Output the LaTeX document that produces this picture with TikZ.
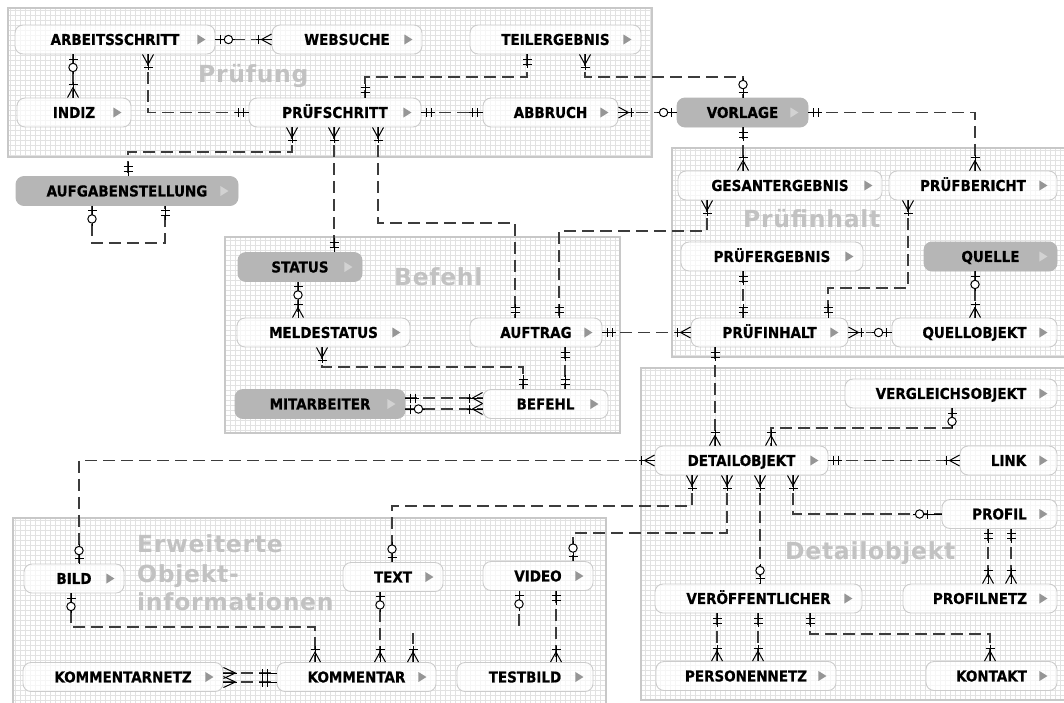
\documentclass[tikz,border=0pt]{standalone}
\usepackage{fontspec}
\setmainfont{DejaVu Sans}
\newfontfamily\entfont[FakeStretch=0.9, FakeBold=0.6]{DejaVu Sans}
\newfontfamily\grpfont[LetterSpace=3]{DejaVu Sans}
\usetikzlibrary{calc}

\definecolor{linecol}{RGB}{60,60,60}
\definecolor{gridcol}{RGB}{226,226,226}
\definecolor{grpedge}{RGB}{200,200,200}
\definecolor{entedge}{RGB}{204,204,204}
\definecolor{entgray}{RGB}{182,182,182}
\definecolor{trigray}{RGB}{150,150,150}
\definecolor{trilight}{RGB}{210,210,210}
\definecolor{lblgray}{RGB}{194,194,194}

\tikzset{
  entbox/.style={draw=entedge, line width=0.9pt, rounded corners=8pt,
    fill=white, fill opacity=0.72, text opacity=1, inner sep=0pt,
    minimum height=29pt, text height=10.9pt, text depth=0pt,
    font=\entfont\bfseries\fontsize{15}{17}\selectfont},
  entdark/.style={entbox, fill=entgray, draw=entgray, fill opacity=1},
  conn/.style={draw=linecol, line width=1.2pt, dash pattern=on 12pt off 6pt},
  sym/.style={draw=black, line width=1pt, solid},
  grplabel/.style={text=lblgray, anchor=base west, inner sep=0pt,
    font=\grpfont\bfseries\fontsize{23.5}{27}\selectfont},
  % end symbols: origin on the entity edge, line leaving along +x
  pics/one/.style={code={
    \draw[sym] (0,0) -- (14,0) (5,-4.5) -- (5,4.5) (10,-4.5) -- (10,4.5);
  }},
  pics/zone/.style={code={
    \draw[sym] (0,0) -- (9,0) (5,-4.5) -- (5,4.5) (17,0) -- (20,0);
    \filldraw[sym, fill=white] (13,0) circle[radius=4.2pt];
  }},
  pics/omany/.style={code={
    \draw[sym] (0,0) -- (16,0) (13,-4.5) -- (13,4.5);
    \draw[sym] (0,-5.5) -- (10,0) -- (0,5.5);
  }},
  pics/crow/.style={code={
    \draw[sym] (0,0) -- (14,0);
    \draw[sym] (0,-5.5) -- (12,0) -- (0,5.5);
  }},
}

% entity: name, centre x, centre y, width, label, style, triangle colour
\newcommand\ent[7]{%
  \node[#6, minimum width=#4pt] (#1) at (#2,#3) {#5};
  \fill[#7] ([xshift=-18pt]#1.east) -- ++(0,5) -- ++(8,-5) -- ++(-8,-5) -- cycle;
}

% grouping area with a fine grid
\newcommand\grp[4]{%
  \fill[white] (#1,#2) rectangle (#3,#4);
  \begin{scope}
    \clip (#1,#2) rectangle (#3,#4);
    \draw[gridcol, line width=0.55pt, step=5pt] (#1,#4) grid (#3,#2);
  \end{scope}
  \draw[grpedge, line width=1.5pt] (#1,#2) rectangle (#3,#4);
}

\begin{document}
\begin{tikzpicture}[x=1pt, y=-1pt]
\useasboundingbox (0,0) rectangle (1064,702);
\fill[white] (0,0) rectangle (1064,702);

% ---- groups
\grp{8}{8}{652}{157}
\grp{672}{148}{1075}{357}
\grp{225}{237}{620}{433}
\grp{641}{368}{1075}{700}
\grp{13}{518}{606}{712}

\node[grplabel] (lPruef) at (198,82) {Prüfung};
\node[grplabel] (lInhalt) at (743,227) {Prüfinhalt};
\node[grplabel] (lBefehl) at (394,285) {Befehl};
\node[grplabel] (lDetail) at (785,559) {Detailobjekt};
\node[grplabel] (lErw1) at (137,552) {Erweiterte};
\node[grplabel] (lErw2) at (137,582) {Objekt-};
\node[grplabel] (lErw3) at (137,610) {informationen};

% ---- entities
\ent{arb}{115}{39.5}{200}{ARBEITSSCHRITT}{entbox}{trigray}
\ent{web}{347}{39.5}{150}{WEBSUCHE}{entbox}{trigray}
\ent{teil}{555.5}{39.5}{171}{TEILERGEBNIS}{entbox}{trigray}
\ent{indiz}{74}{112.5}{114}{INDIZ}{entbox}{trigray}
\ent{pruefs}{335}{112.5}{172}{PRÜFSCHRITT}{entbox}{trigray}
\ent{abbr}{550.5}{112.5}{135}{ABBRUCH}{entbox}{trigray}
\ent{vorl}{742.5}{112.5}{131}{VORLAGE}{entdark}{trilight}
\ent{aufg}{127}{191}{222}{AUFGABENSTELLUNG}{entdark}{trilight}
\ent{gesamt}{780}{185.5}{204}{GESANTERGEBNIS}{entbox}{trigray}
\ent{bericht}{973}{185.5}{168}{PRÜFBERICHT}{entbox}{trigray}
\ent{pergeb}{772}{256.5}{182}{PRÜFERGEBNIS}{entbox}{trigray}
\ent{quelle}{990.5}{256.5}{133}{QUELLE}{entdark}{trilight}
\ent{inhalt}{769.5}{332.5}{157}{PRÜFINHALT}{entbox}{trigray}
\ent{qobj}{974.5}{332.5}{165}{QUELLOBJEKT}{entbox}{trigray}
\ent{status}{300}{267}{124}{STATUS}{entdark}{trilight}
\ent{melde}{323.5}{332.5}{173}{MELDESTATUS}{entbox}{trigray}
\ent{auftrag}{536}{332.5}{132}{AUFTRAG}{entbox}{trigray}
\ent{mitarb}{320}{404}{170}{MITARBEITER}{entdark}{trilight}
\ent{befehl}{545.5}{404}{125}{BEFEHL}{entbox}{trigray}
\ent{vergl}{951}{393.5}{212}{VERGLEICHSOBJEKT}{entbox}{trigray}
\ent{detail}{741.5}{460.5}{173}{DETAILOBJEKT}{entbox}{trigray}
\ent{link}{1008.5}{460.5}{97}{LINK}{entbox}{trigray}
\ent{profil}{999.5}{514}{115}{PROFIL}{entbox}{trigray}
\ent{veroef}{758.5}{598.5}{207}{VERÖFFENTLICHER}{entbox}{trigray}
\ent{profnetz}{980}{598.5}{154}{PROFILNETZ}{entbox}{trigray}
\ent{persnetz}{746}{676}{180}{PERSONENNETZ}{entbox}{trigray}
\ent{kontakt}{991.5}{676}{131}{KONTAKT}{entbox}{trigray}
\ent{bild}{74}{578.5}{100}{BILD}{entbox}{trigray}
\ent{txt}{393}{577}{100}{TEXT}{entbox}{trigray}
\ent{video}{538}{576}{110}{VIDEO}{entbox}{trigray}
\ent{knetz}{123}{677}{200}{KOMMENTARNETZ}{entbox}{trigray}
\ent{komm}{356.5}{677}{159}{KOMMENTAR}{entbox}{trigray}
\ent{testbild}{525}{677}{136}{TESTBILD}{entbox}{trigray}

\coordinate (kstub) at (413,633);
\coordinate (vstub) at (519,626);

% ---- relationships: Prüfung
\draw[conn] (arb.east) -- (web.west);
\pic at (arb.east) {zone}; \pic[rotate=180] at (web.west) {omany};

\draw[conn] (arb.south -| 73,0) -- (indiz.north -| 73,0);
\pic[rotate=-90] at (arb.south -| 73,0) {zone}; \pic[rotate=90] at (indiz.north -| 73,0) {omany};

\draw[conn] (arb.south -| 148,0) |- (pruefs.west);
\pic[rotate=-90] at (arb.south -| 148,0) {omany}; \pic[rotate=180] at (pruefs.west) {one};

\draw[conn] (teil.south -| 527,0) |- (365,77) -- (pruefs.north -| 365,0);
\pic[rotate=-90] at (teil.south -| 527,0) {one}; \pic[rotate=90] at (pruefs.north -| 365,0) {one};

\draw[conn] (teil.south -| 585,0) |- (743,77) -- (vorl.north -| 743,0);
\pic[rotate=-90] at (teil.south -| 585,0) {omany}; \pic[rotate=90] at (vorl.north -| 743,0) {zone};

\draw[conn] (pruefs.east) -- (abbr.west);
\pic at (pruefs.east) {one}; \pic[rotate=180] at (abbr.west) {one};

\draw[conn] (abbr.east) -- (vorl.west);
\pic at (abbr.east) {omany}; \pic[rotate=180] at (vorl.west) {zone};

\draw[conn] (vorl.east) -| (bericht.north -| 975,0);
\pic at (vorl.east) {one}; \pic[rotate=90] at (bericht.north -| 975,0) {omany};

\draw[conn] (vorl.south -| 743,0) -- (gesamt.north -| 743,0);
\pic[rotate=-90] at (vorl.south -| 743,0) {one}; \pic[rotate=90] at (gesamt.north -| 743,0) {omany};

\draw[conn] (pruefs.south -| 292,0) |- (128,152) -- (aufg.north -| 128,0);
\pic[rotate=-90] at (pruefs.south -| 292,0) {omany}; \pic[rotate=90] at (aufg.north -| 128,0) {one};

\draw[conn] (pruefs.south -| 334,0) -- (status.north -| 334,0);
\pic[rotate=-90] at (pruefs.south -| 334,0) {omany}; \pic[rotate=90] at (status.north -| 334,0) {one};

\draw[conn] (pruefs.south -| 378,0) |- (515,223) -- (auftrag.north -| 515,0);
\pic[rotate=-90] at (pruefs.south -| 378,0) {omany}; \pic[rotate=90] at (auftrag.north -| 515,0) {one};

\draw[conn] (aufg.south -| 92,0) |- (165,243) -- (aufg.south -| 165,0);
\pic[rotate=-90] at (aufg.south -| 92,0) {zone}; \pic[rotate=-90] at (aufg.south -| 165,0) {one};

% ---- relationships: Prüfinhalt
\draw[conn] (gesamt.south -| 707,0) |- (559,231) -- (auftrag.north -| 559,0);
\pic[rotate=-90] at (gesamt.south -| 707,0) {omany}; \pic[rotate=90] at (auftrag.north -| 559,0) {one};

\draw[conn] (bericht.south -| 908,0) |- (828,288) -- (inhalt.north -| 828,0);
\pic[rotate=-90] at (bericht.south -| 908,0) {omany}; \pic[rotate=90] at (inhalt.north -| 828,0) {one};

\draw[conn] (pergeb.south -| 743,0) -- (inhalt.north -| 743,0);
\pic[rotate=-90] at (pergeb.south -| 743,0) {one}; \pic[rotate=90] at (inhalt.north -| 743,0) {one};

\draw[conn] (inhalt.east) -- (qobj.west);
\pic at (inhalt.east) {omany}; \pic[rotate=180] at (qobj.west) {zone};

\draw[conn] (quelle.south -| 975,0) -- (qobj.north -| 975,0);
\pic[rotate=-90] at (quelle.south -| 975,0) {zone}; \pic[rotate=90] at (qobj.north -| 975,0) {omany};

\draw[conn] (auftrag.east) -- (inhalt.west);
\pic at (auftrag.east) {one}; \pic[rotate=180] at (inhalt.west) {omany};

\draw[conn] (inhalt.south -| 715,0) -- (detail.north -| 715,0);
\pic[rotate=-90] at (inhalt.south -| 715,0) {one}; \pic[rotate=90] at (detail.north -| 715,0) {omany};

% ---- relationships: Befehl
\draw[conn] (status.south -| 298,0) -- (melde.north -| 298,0);
\pic[rotate=-90] at (status.south -| 298,0) {zone}; \pic[rotate=90] at (melde.north -| 298,0) {omany};

\draw[conn] (melde.south -| 322,0) |- (523,367) -- (befehl.north -| 523,0);
\pic[rotate=-90] at (melde.south -| 322,0) {omany}; \pic[rotate=90] at (befehl.north -| 523,0) {one};

\draw[conn] (auftrag.south -| 565,0) -- (befehl.north -| 565,0);
\pic[rotate=-90] at (auftrag.south -| 565,0) {one}; \pic[rotate=90] at (befehl.north -| 565,0) {one};

\draw[conn] ($(mitarb.east)+(0,-6)$) -- ($(befehl.west)+(0,-6)$);
\draw[conn] ($(mitarb.east)+(0,5)$) -- ($(befehl.west)+(0,5)$);
\pic at ($(mitarb.east)+(0,-6)$) {one}; \pic at ($(mitarb.east)+(0,5)$) {zone};
\pic[rotate=180] at ($(befehl.west)+(0,-6)$) {omany};
\pic[rotate=180] at ($(befehl.west)+(0,5)$) {omany};

% ---- relationships: Detailobjekt
\draw[conn] (vergl.south -| 952,0) |- (771,428) -- (detail.north -| 771,0);
\pic[rotate=-90] at (vergl.south -| 952,0) {zone}; \pic[rotate=90] at (detail.north -| 771,0) {omany};

\draw[conn] (detail.east) -- (link.west);
\pic at (detail.east) {one}; \pic[rotate=180] at (link.west) {omany};

\draw[conn] (detail.west) -| (bild.north -| 79,0);
\pic[rotate=180] at (detail.west) {omany}; \pic[rotate=90] at (bild.north -| 79,0) {zone};

\draw[conn] (detail.south -| 692,0) |- (392,506) -- (txt.north -| 392,0);
\pic[rotate=-90] at (detail.south -| 692,0) {omany}; \pic[rotate=90] at (txt.north -| 392,0) {zone};

\draw[conn] (detail.south -| 727,0) |- (573,533) -- (video.north -| 573,0);
\pic[rotate=-90] at (detail.south -| 727,0) {omany}; \pic[rotate=90] at (video.north -| 573,0) {zone};

\draw[conn] (detail.south -| 760,0) -- (veroef.north -| 760,0);
\pic[rotate=-90] at (detail.south -| 760,0) {omany}; \pic[rotate=90] at (veroef.north -| 760,0) {zone};

\draw[conn] (detail.south -| 793,0) |- (profil.west);
\pic[rotate=-90] at (detail.south -| 793,0) {omany};
\draw[sym] (profil.west) -- ++(-9,0);
\pic[rotate=180] at ([xshift=-9pt]profil.west) {zone};

\draw[conn] (profil.south -| 988,0) -- (profnetz.north -| 988,0);
\pic[rotate=-90] at (profil.south -| 988,0) {one}; \pic[rotate=90] at (profnetz.north -| 988,0) {omany};
\draw[conn] (profil.south -| 1011,0) -- (profnetz.north -| 1011,0);
\pic[rotate=-90] at (profil.south -| 1011,0) {one}; \pic[rotate=90] at (profnetz.north -| 1011,0) {omany};

\draw[conn] (veroef.south -| 717,0) -- (persnetz.north -| 717,0);
\pic[rotate=-90] at (veroef.south -| 717,0) {one}; \pic[rotate=90] at (persnetz.north -| 717,0) {omany};
\draw[conn] (veroef.south -| 758,0) -- (persnetz.north -| 758,0);
\pic[rotate=-90] at (veroef.south -| 758,0) {one}; \pic[rotate=90] at (persnetz.north -| 758,0) {omany};

\draw[conn] (veroef.south -| 810,0) |- (990,634) -- (kontakt.north -| 990,0);
\pic[rotate=-90] at (veroef.south -| 810,0) {one}; \pic[rotate=90] at (kontakt.north -| 990,0) {omany};

% ---- relationships: Erweiterte Objektinformationen
\draw[conn] (bild.south -| 71,0) |- (315,627) -- (komm.north -| 315,0);
\pic[rotate=-90] at (bild.south -| 71,0) {zone}; \pic[rotate=90] at (komm.north -| 315,0) {omany};

\draw[conn] (txt.south -| 380,0) -- (komm.north -| 380,0);
\pic[rotate=-90] at (txt.south -| 380,0) {zone}; \pic[rotate=90] at (komm.north -| 380,0) {omany};

\draw[conn] (komm.north -| 413,0) -- (kstub);
\pic[rotate=90] at (komm.north -| 413,0) {omany};

\draw[conn, dash pattern=on 0pt off 23pt on 12pt off 100pt] (video.south -| 519,0) -- (vstub);
\pic[rotate=-90] at (video.south -| 519,0) {zone};

\draw[conn] (video.south -| 556,0) -- (testbild.north -| 556,0);
\pic[rotate=-90] at (video.south -| 556,0) {one}; \pic[rotate=90] at (testbild.north -| 556,0) {omany};

\draw[conn] ($(knetz.east)+(0,-4)$) -- ($(komm.west)+(0,-4)$);
\draw[conn] ($(knetz.east)+(0,5)$) -- ($(komm.west)+(0,5)$);
\pic at ($(knetz.east)+(0,-4)$) {crow}; \pic at ($(knetz.east)+(0,5)$) {crow};
\pic[rotate=180] at ($(komm.west)+(-4,-4)$) {one};
\pic[rotate=180] at ($(komm.west)+(-4,5)$) {one};
\draw[sym] ($(komm.west)+(0,-4)$) -- ++(-4,0) ($(komm.west)+(0,5)$) -- ++(-4,0);
\end{tikzpicture}
\end{document}
